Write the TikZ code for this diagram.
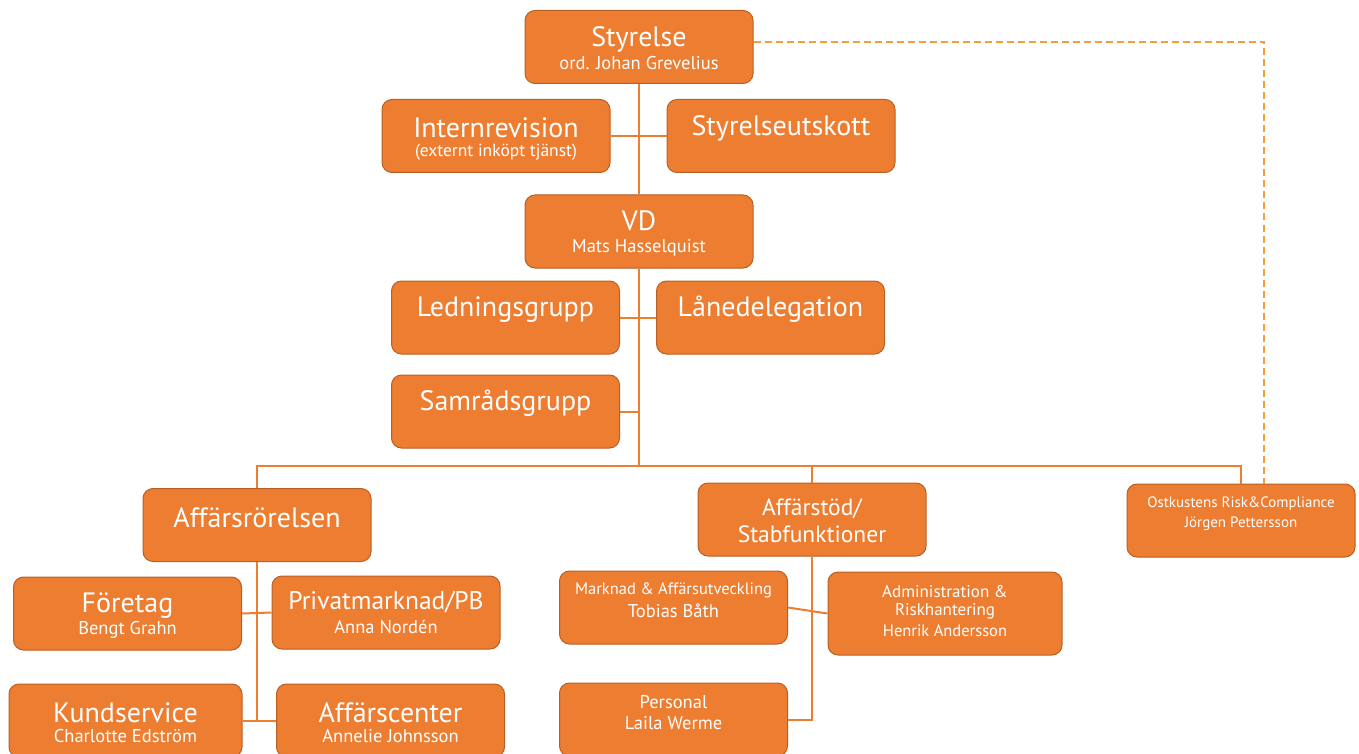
\documentclass[tikz,border=0pt]{standalone}
\usepackage{fontspec}
\setmainfont{PT Sans}
\usepackage{tikz}
\usetikzlibrary{positioning, calc}
\definecolor{boxfill}{RGB}{237,125,49}
\definecolor{boxedge}{RGB}{184,96,36}
\definecolor{linkcol}{RGB}{237,125,49}
\definecolor{dashcol}{RGB}{244,158,58}
\tikzset{
  orgbox/.style={rectangle, draw=boxedge, fill=boxfill, rounded corners=10pt,
    line width=1pt, minimum width=228, minimum height=73, inner sep=0pt},
  big/.style={font=\fontsize{28}{32}\selectfont, text=white, inner sep=0pt},
  mid/.style={font=\fontsize{23.5}{27}\selectfont, text=white, inner sep=0pt},
  small/.style={font=\fontsize{18.5}{21}\selectfont, text=white, inner sep=0pt},
  tiny/.style={font=\fontsize{16.5}{19}\selectfont, text=white, inner sep=0pt},
  link/.style={draw=linkcol, line width=2pt},
  dotlink/.style={draw=dashcol, line width=2.5pt, dash pattern=on 7pt off 4pt}
}

\begin{document}
\begin{tikzpicture}[x=1pt, y=-1pt]
  \useasboundingbox (0,0) rectangle (1359,754);
  \clip (0,0) rectangle (1359,754);

  % Styrelse and the boxes under it
  \node[orgbox, label={[big, yshift=8]center:Styrelse},
    label={[small, yshift=-16]center:ord. Johan Grevelius}] (sty) at (639,47) {};
  \node[orgbox, label={[big, yshift=8]center:Internrevision},
    label={[tiny, font=\fontsize{17.5}{20}\selectfont, yshift=-16]center:(externt inköpt tjänst)}] (intrev) at (496,136) {};
  \node[orgbox, label={[big, yshift=8]center:Styrelseutskott}] (utskott) at (781,136) {};

  % VD
  \node[orgbox, label={[big, yshift=11]center:VD},
    label={[small, yshift=-16]center:Mats Hasselquist}] (vd) at (639,231.5) {};
  \node[orgbox, label={[big, yshift=8]center:Ledningsgrupp}] (led) at (505.5,317.5) {};
  \node[orgbox, label={[big, yshift=8]center:Lånedelegation}] (lane) at (770.5,317.5) {};
  \node[orgbox, label={[big, yshift=8]center:Samrådsgrupp}] (samr) at (505.5,411.5) {};

  % second level
  \node[orgbox, label={[big, yshift=7]center:Affärsrörelsen}] (affr) at (257,525) {};
  \node[orgbox, label={[mid, yshift=11]center:Affärstöd/},
    label={[mid, yshift=-15]center:Stabfunktioner}] (affst) at (812,519.5) {};
  \node[orgbox, label={[tiny, font=\fontsize{15}{18}\selectfont, yshift=17]center:Ostkustens Risk\&Compliance},
    label={[tiny, font=\fontsize{15}{18}\selectfont, yshift=-3]center:Jörgen Pettersson}] (osk) at (1241,520.5) {};

  % Affärsrörelsen
  \node[orgbox, label={[big, yshift=8]center:Företag},
    label={[small, yshift=-16]center:Bengt Grahn}] (fore) at (127.5,613.5) {};
  \node[orgbox, label={[big, font=\fontsize{25.5}{29}\selectfont, yshift=10]center:Privatmarknad/PB},
    label={[small, yshift=-14]center:Anna Nordén}] (priv) at (386,612.5) {};
  \node[orgbox, minimum width=233, label={[big, yshift=8]center:Kundservice},
    label={[small, yshift=-16]center:Charlotte Edström}] (kund) at (125.5,720.5) {};
  \node[orgbox, label={[big, yshift=8]center:Affärscenter},
    label={[small, yshift=-16]center:Annelie Johnsson}] (affc) at (390.5,720.5) {};

  % Affärstöd
  \node[orgbox, label={[tiny, yshift=17]center:Marknad \& Affärsutveckling},
    label={[small, yshift=-3]center:Tobias Båth}] (mark) at (673.5,607.5) {};
  \node[orgbox, minimum width=234, minimum height=83,
    label={[tiny, font=\fontsize{17}{20}\selectfont, yshift=21.5]center:Administration \&},
    label={[tiny, font=\fontsize{17}{20}\selectfont, yshift=2.5]center:Riskhantering},
    label={[tiny, yshift=-17.5]center:Henrik Andersson}] (adm) at (945,613.5) {};
  \node[orgbox, label={[small, yshift=17.5]center:Personal},
    label={[small, yshift=-3.5]center:Laila Werme}] (pers) at (673.5,719.5) {};

  % Connectors
  \coordinate (bus) at (639,466);
  \draw[link] (sty) -- (vd);
  \draw[link] (intrev.east) -- (utskott.west);
  \draw[link] (vd) -- (bus);
  \draw[link] (led.east) -- (lane.west);
  \draw[link] (samr.east) -- (samr.east -| vd.south);
  \draw[link] (affr.north) |- (bus) -| (osk.north);
  \draw[link] (affst.north) -- (affst.north |- bus);
  \draw[link] (affr.south) -- (affr.south |- kund.east);
  \draw[link] (fore.east) -- (priv.west);
  \draw[link] (kund.east) -- (affc.west);
  \draw[link] (affst.south) |- (pers.east);
  \draw[link] (mark.east) -- (adm.west);
  \draw[dotlink] ([yshift=5pt]sty.east) -| ([xshift=23pt]osk.north);
\end{tikzpicture}
\end{document}
